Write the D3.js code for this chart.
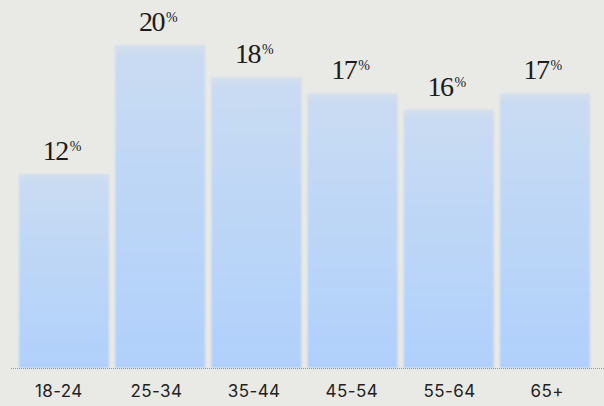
<!DOCTYPE html>
<html>
<head>
<meta charset="utf-8">
<script src="https://cdn.jsdelivr.net/npm/d3@7"></script>
<style>
  html, body { margin: 0; padding: 0; background: #e9e9e5; }
  svg { display: block; }
</style>
</head>
<body>
<svg id="chart" width="604" height="406"></svg>
<script>
// Share of respondents by age group
const ageGroups = ["18-24", "25-34", "35-44", "45-54", "55-64", "65+"];
const shares = [12, 20, 18, 17, 16, 17];

const width = 604, height = 406;
const baseY = 368;

const svg = d3.select("#chart");

// Bar positions
const x = d3.scaleBand()
  .domain(ageGroups)
  .range([16, 593])
  .paddingInner(0.065)
  .paddingOuter(0.032);

// Category labels are spread across the full baseline
const xAxisScale = d3.scaleBand()
  .domain(ageGroups)
  .range([10, 596]);

const y = d3.scaleLinear()
  .domain([0, 20])
  .range([baseY, 45]);

const defs = svg.append("defs");
const grad = defs.append("linearGradient")
  .attr("id", "barFill")
  .attr("x1", 0).attr("y1", 0).attr("x2", 0).attr("y2", 1);
grad.append("stop").attr("offset", "0%").attr("stop-color", "#d2dfee");
grad.append("stop").attr("offset", "4%").attr("stop-color", "#c9dbf2");
grad.append("stop").attr("offset", "50%").attr("stop-color", "#bcd6f7");
grad.append("stop").attr("offset", "100%").attr("stop-color", "#b0d0fb");

const blur = defs.append("filter").attr("id", "soft")
  .attr("x", "-5%").attr("y", "-5%").attr("width", "110%").attr("height", "110%");
blur.append("feGaussianBlur").attr("stdDeviation", 0.8);

// Bars
svg.append("g")
  .selectAll("rect")
  .data(ageGroups)
  .join("rect")
  .attr("x", d => x(d))
  .attr("y", (d, i) => y(shares[i]))
  .attr("width", x.bandwidth())
  .attr("height", (d, i) => baseY - y(shares[i]))
  .attr("fill", "url(#barFill)")
  .attr("filter", "url(#soft)");

// Baseline
svg.append("line")
  .attr("x1", 11).attr("x2", width)
  .attr("y1", baseY + 0.5).attr("y2", baseY + 0.5)
  .attr("stroke", "#9a9a98")
  .attr("stroke-width", 1)
  .attr("stroke-dasharray", "1,1");

// Value labels
const labels = svg.append("g")
  .selectAll("text")
  .data(ageGroups)
  .join("text")
  .attr("x", d => x(d) + x.bandwidth() / 2 - 2)
  .attr("y", (d, i) => y(shares[i]) - 14)
  .attr("text-anchor", "middle")
  .attr("font-family", "'Liberation Serif', serif")
  .attr("fill", "#1c1c1c");
labels.append("tspan")
  .attr("font-size", 28)
  .attr("letter-spacing", -1.5)
  .text((d, i) => shares[i]);
labels.append("tspan")
  .attr("font-size", 14)
  .attr("dx", 2)
  .attr("dy", -9)
  .text("%");

// Category axis
const axis = svg.append("g")
  .attr("transform", `translate(0,${baseY})`)
  .call(d3.axisBottom(xAxisScale).tickSize(0));
axis.select(".domain").remove();
axis.selectAll("text")
  .attr("y", 29)
  .attr("dy", 0)
  .attr("font-family", "Inter, sans-serif")
  .attr("font-size", 17)
  .attr("letter-spacing", 0.4)
  .attr("fill", "#222");
</script>
</body>
</html>
